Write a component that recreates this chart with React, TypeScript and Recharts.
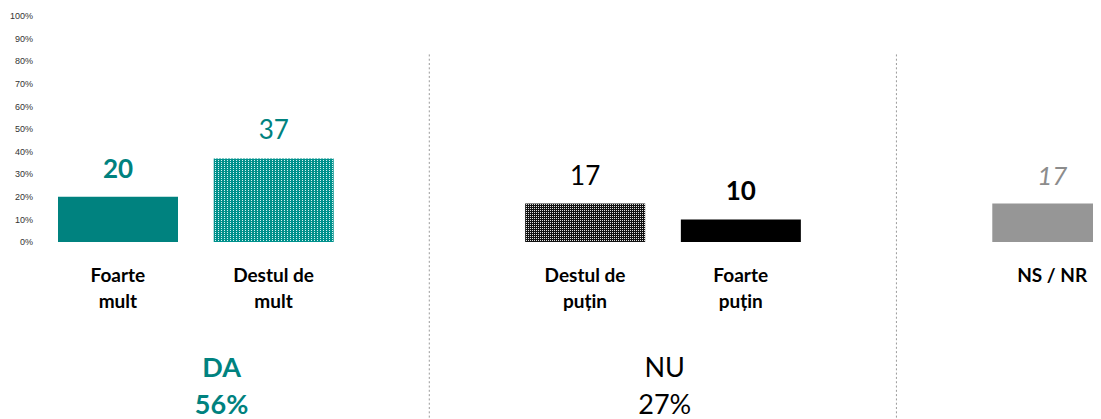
import React from "react";
import {
  BarChart,
  Bar,
  XAxis,
  YAxis,
  Cell,
  LabelList,
  ReferenceLine,
} from "recharts";

// categories (blank ones are the gaps between answer groups)
const categoryKeys = ["fm", "dm", "sep1", "dp", "fp", "sep2", "ns"];
const categoryLabels = [
  ["Foarte", "mult"],
  ["Destul de", "mult"],
  [],
  ["Destul de", "puțin"],
  ["Foarte", "puțin"],
  [],
  ["NS / NR"],
];
const shares = [20, 37, null, 17, 10, null, 17];
const yTicks = [0, 10, 20, 30, 40, 50, 60, 70, 80, 90, 100];
const separators = ["sep1", "sep2"];
const groups = [
  { under: "dm", title: "DA", total: "56%" },
  { under: "fp", title: "NU", total: "27%" },
];

const TEAL = "#00827f";
const FONT = "Lato, 'Open Sans', sans-serif";

const barFills: Record<string, string> = {
  fm: TEAL,
  dm: "url(#tealDots)",
  dp: "url(#blackDots)",
  fp: "#000000",
  ns: "#969696",
};

const valueStyles: Record<string, { fill: string; weight: number; italic?: boolean }> = {
  fm: { fill: TEAL, weight: 700 },
  dm: { fill: TEAL, weight: 400 },
  dp: { fill: "#000", weight: 400 },
  fp: { fill: "#000", weight: 700 },
  ns: { fill: "#8c8c8c", weight: 400, italic: true },
};

const groupStyles: Record<string, { color: string; weight: number; dx: number }> = {
  DA: { color: TEAL, weight: 700, dx: -52 },
  NU: { color: "#000", weight: 400, dx: -76 },
};

const data = categoryKeys.map((key, i) => ({ key, value: shares[i] }));

const CategoryTick = (props: any) => {
  const { x, y, payload } = props;
  const idx = categoryKeys.indexOf(payload.value);
  const lines = categoryLabels[idx] || [];
  const group = groups.find((g) => g.under === payload.value);
  const gs = group ? groupStyles[group.title] : null;
  return (
    <g>
      {lines.map((line, i) => (
        <text
          key={i}
          x={x}
          y={y + 40 + i * 26}
          textAnchor="middle"
          fontFamily={FONT}
          fontSize={19}
          fontWeight={700}
          fill="#000"
        >
          {line}
        </text>
      ))}
      {group && gs && (
        <g fontFamily={FONT} fontSize={27} fontWeight={gs.weight} fill={gs.color}>
          <text x={x + gs.dx} y={y + 135} textAnchor="middle">
            {group.title}
          </text>
          <text x={x + gs.dx} y={y + 172} textAnchor="middle">
            {group.total}
          </text>
        </g>
      )}
    </g>
  );
};

// value label, looked up by category key (LabelList index skips empty slots)
const ValueLabel = (props: any) => {
  const { x, y, width, value } = props;
  const idx = categoryKeys.indexOf(value);
  const share = shares[idx];
  const st = valueStyles[value];
  if (share == null || !st) return null;
  return (
    <text
      x={x + width / 2}
      y={y - 19}
      textAnchor="middle"
      fontFamily={FONT}
      fontSize={26}
      fill={st.fill}
      fontWeight={st.weight}
      fontStyle={st.italic ? "italic" : "normal"}
    >
      {share}
    </text>
  );
};

export default function App() {
  return (
    <div style={{ width: 1093, height: 411, overflow: "hidden" }}>
      <svg width={0} height={0} style={{ position: "absolute" }}>
        <defs>
          <pattern id="tealDots" width={3} height={2} patternUnits="userSpaceOnUse">
            <rect width={3} height={2} fill="#00918c" />
            <rect width={1} height={1} fill="#d8f2f1" />
          </pattern>
          <pattern id="blackDots" width={2} height={2} patternUnits="userSpaceOnUse">
            <rect width={2} height={2} fill="#111111" />
            <rect width={1} height={1} fill="#e0e0e0" />
          </pattern>
        </defs>
      </svg>
      <BarChart
        width={1122}
        height={411}
        data={data}
        margin={{ top: 8, right: 0, bottom: 0, left: 0 }}
      >
        <YAxis
          domain={[0, 100]}
          ticks={yTicks}
          interval={0}
          width={32}
          axisLine={false}
          tickLine={false}
          tickSize={0}
          tickMargin={7}
          tickFormatter={(v) => `${v}%`}
          tick={{ fontSize: 9, fill: "#333333", fontFamily: "'Liberation Sans', Arial, sans-serif" }}
        />
        <XAxis
          dataKey="key"
          height={177}
          interval={0}
          axisLine={false}
          tickLine={false}
          tickSize={0}
          tickMargin={0}
          tick={<CategoryTick />}
        />
        {separators.map((s) => (
          <ReferenceLine
            key={s}
            segment={[
              { x: s, y: 83 },
              { x: s, y: -80 },
            ]}
            stroke="#9a9a9a"
            strokeDasharray="2 2.3"
            ifOverflow="visible"
          />
        ))}
        <Bar dataKey="value" barSize={120} isAnimationActive={false}>
          {data.map((d) => (
            <Cell key={d.key} fill={barFills[d.key] || "none"} />
          ))}
          <LabelList dataKey="key" content={<ValueLabel />} />
        </Bar>
      </BarChart>
    </div>
  );
}
